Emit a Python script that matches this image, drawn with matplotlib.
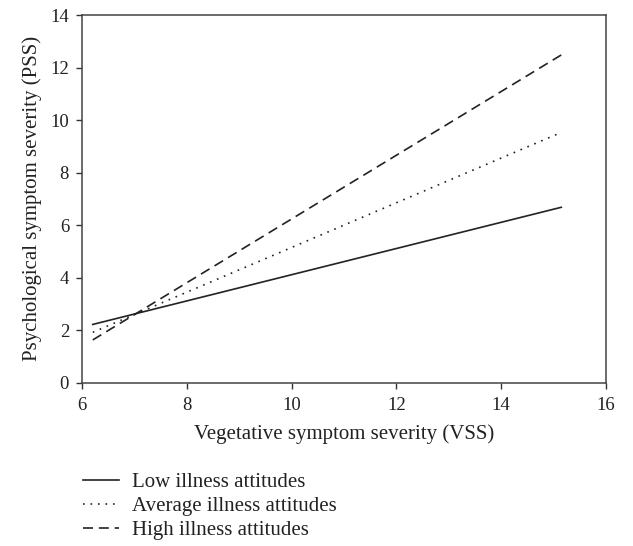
import numpy as np
import matplotlib
matplotlib.use('Agg')
import matplotlib.pyplot as plt

plt.rcParams['font.family'] = ['Liberation Serif', 'DejaVu Serif']

# endpoints of the three simple slopes
vss = [6.2, 15.15]
pss_low = [2.22, 6.68]
pss_avg = [1.92, 9.53]
pss_high = [1.63, 12.48]
labels = ['Low illness attitudes', 'Average illness attitudes', 'High illness attitudes']

fig = plt.figure(figsize=(6.33, 5.46), dpi=100)
ax = fig.add_axes([0.130, 0.299, 0.827, 0.6735])

ax.plot(vss, pss_low, color='#222222', lw=1.2, linestyle='-', label=labels[0])
ax.plot(vss, pss_avg, color='#222222', lw=1.2, linestyle=(0, (1, 3.5)), label=labels[1])
ax.plot(vss, pss_high, color='#222222', lw=1.2, linestyle=(0, (6, 3.5)), label=labels[2])

ax.set_xlim(6, 16)
ax.set_ylim(0, 14)
ax.set_xticks(np.arange(6, 17, 2))
ax.set_yticks(np.arange(0, 15, 2))
ax.tick_params(direction='out', length=4.5, width=1, labelsize=13.5, colors='#333333',
               labelcolor='#222222')
ax.tick_params(axis='x', pad=6)
ax.tick_params(axis='y', pad=5)
for s in ax.spines.values():
    s.set_color('#444444')
    s.set_linewidth(1.1)

ax.set_xlabel('Vegetative symptom severity (VSS)', fontsize=15, color='#222222', labelpad=7)
ax.set_ylabel('Psychological symptom severity (PSS)', fontsize=15, color='#222222', labelpad=6)

h, l = ax.get_legend_handles_labels()
fig.legend(h, l, loc='upper left', bbox_to_anchor=(0.118, 0.15), frameon=False,
           fontsize=15, handlelength=1.75, handletextpad=0.6, labelspacing=0.22,
           labelcolor='#222222', borderaxespad=0)

fig.savefig('out.png', dpi=100)
